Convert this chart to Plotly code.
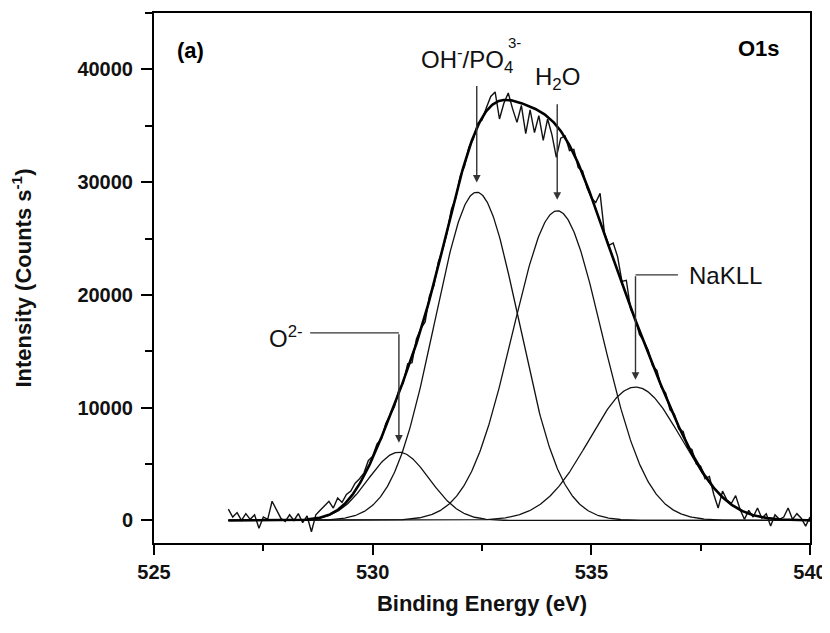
import numpy as np
import plotly.graph_objects as go

# ---------------- data ----------------
# raw O1s spectrum: binding energy grid 526.7 .. 540.0 eV, step 0.1 eV
energy_start = 526.7
energy_step = 0.1
raw_counts = [
    1000, 300, 700, 0, 600, 100, 500, -700, 300, 100,        # 526.7-527.6
    1700, 900, 200, -100, 500, 0, 600, -200, 400, -1000,     # 527.7-528.6
    500, 900, 1300, 1700, 1100, 2000, 1600, 2300, 2600, 3300,  # 528.7-529.6
    3700, 4200, 5300, 5700, 6800, 7200, 8600, 9300, 10100, 11600,  # 529.7-530.6
    12200, 13900, 14000, 16100, 17000, 17600, 19900, 20800, 22900, 24000,  # 530.7-531.6
    25500, 27600, 28600, 30500, 31400, 33100, 33800, 35200, 35500, 36600,  # 531.7-532.6
    37600, 38000, 35600, 37000, 37900, 36500, 35300, 36800, 34300, 36400,  # 532.7-533.6
    34400, 35900, 33700, 35600, 34200, 32200, 33900, 34100, 32800, 32900,  # 533.7-534.6
    31300, 31000, 29500, 28600, 28200, 29000, 25500, 24400, 24600, 23400,  # 534.7-535.6
    21200, 21300, 18700, 18000, 16500, 15900, 15100, 13700, 13300, 11800,  # 535.7-536.6
    11300, 9800, 9400, 8100, 7900, 6500, 6300, 5000, 4800, 3700,   # 536.7-537.6
    3900, 2300, 1100, 2600, 1800, 1500, 2200, 1000, 100, 900,      # 537.7-538.6
    300, 1100, 200, 600, -500, 500, 100, 300, 1100, 100,           # 538.7-539.6
    600, 200, -500, 300,                                           # 539.7-540.0
]

# fitted components (Gaussian): centre (eV), height (counts/s), sigma (eV)
peak_names = ["O2-", "OH-/PO4 3-", "H2O", "NaKLL"]
peak_centers = [530.60, 532.38, 534.22, 536.01]
peak_heights = [6050, 29110, 27460, 11830]
peak_sigmas = [0.70, 0.96, 1.02, 1.06]

x_ticks = [525, 530, 535, 540]
y_ticks = [0, 10000, 20000, 30000, 40000]

# ---------------- figure ----------------
raw_x = energy_start + energy_step * np.arange(len(raw_counts))
fit_x = np.linspace(raw_x[0], raw_x[-1], 700)

fig = go.Figure()
components = []
for c, h, s in zip(peak_centers, peak_heights, peak_sigmas):
    comp = h * np.exp(-((fit_x - c) ** 2) / (2 * s ** 2))
    components.append(comp)
    fig.add_trace(go.Scatter(x=fit_x, y=comp, mode="lines",
                             line=dict(color="#111111", width=1.3),
                             hoverinfo="skip", showlegend=False))
envelope = np.sum(components, axis=0)

fig.add_trace(go.Scatter(x=raw_x, y=raw_counts, mode="lines",
                         line=dict(color="#111111", width=1.4),
                         showlegend=False))
fig.add_trace(go.Scatter(x=fit_x, y=envelope, mode="lines",
                         line=dict(color="#000000", width=2.6),
                         showlegend=False))

FONT = "Liberation Sans, Arial, sans-serif"
arrow_col = "#333333"

ann = []
# panel label and core level
ann.append(dict(xref="paper", yref="paper", x=0.032, y=0.93, text="(a)",
                showarrow=False, xanchor="left", yanchor="middle",
                font=dict(family=FONT, size=22, color="black", weight="bold")))
ann.append(dict(xref="paper", yref="paper", x=0.957, y=0.933, text="O1s",
                showarrow=False, xanchor="right", yanchor="middle",
                font=dict(family=FONT, size=22, color="black", weight="bold")))

lab_font = dict(family=FONT, size=24, color="#111111")
# vertical arrows pointing to the component peaks
arrow_specs = [(0, 840, -110), (1, 850, -98), (2, 970, -97), (3, 640, -105)]
for idx, off, ay in arrow_specs:
    ann.append(dict(x=peak_centers[idx], y=peak_heights[idx] + off, xref="x", yref="y",
                    text="", showarrow=True, ax=0, ay=ay, arrowhead=2,
                    arrowsize=1.1, arrowwidth=1.4, arrowcolor=arrow_col, standoff=0))

# labels
ann.append(dict(x=peak_centers[1] - 1.33, y=40850, xref="x", yref="y",
                text="OH<sup>-</sup>/PO<sub>4</sub>", showarrow=False,
                xanchor="left", yanchor="middle", font=lab_font))
ann.append(dict(x=peak_centers[1] + 0.66, y=42400, xref="x", yref="y",
                text="3-", showarrow=False, xanchor="left", yanchor="middle",
                font=dict(family=FONT, size=15, color="#111111")))
ann.append(dict(x=peak_centers[2] - 0.56, y=39150, xref="x", yref="y",
                text="H<sub>2</sub>O", showarrow=False,
                xanchor="left", yanchor="middle", font=lab_font))
ann.append(dict(x=537.19, y=21700, xref="x", yref="y", text="NaKLL",
                showarrow=False, xanchor="left", yanchor="middle", font=lab_font))
ann.append(dict(x=528.45, y=16300, xref="x", yref="y", text="O<sup>2-</sup>",
                showarrow=False, xanchor="right", yanchor="middle", font=lab_font))

shapes = [
    dict(type="line", xref="x", yref="y", x0=528.57, x1=peak_centers[0],
         y0=peak_heights[0] + 840 + 110 * 88.65, y1=peak_heights[0] + 840 + 110 * 88.65,
         line=dict(color=arrow_col, width=1.3)),
    dict(type="line", xref="x", yref="y", x0=peak_centers[3], x1=536.98,
         y0=peak_heights[3] + 640 + 105 * 88.65, y1=peak_heights[3] + 640 + 105 * 88.65,
         line=dict(color=arrow_col, width=1.3)),
]

axis_common = dict(showgrid=False, zeroline=False, showline=True, linewidth=2,
                   linecolor="black", mirror=True, ticks="outside", tickwidth=2,
                   tickcolor="black", automargin=False,
                   tickfont=dict(family=FONT, size=20, color="#111111", weight="bold"))

# the page body adds an 8 px offset, so margins are reduced by 8 px at left/top
fig.update_layout(
    width=830, height=633,
    margin=dict(l=146, r=28, t=5, b=98),
    paper_bgcolor="white", plot_bgcolor="white",
    annotations=ann, shapes=shapes,
    xaxis=dict(range=[525, 540], tickvals=x_ticks, ticklen=10,
               minor=dict(ticks="outside", dtick=2.5, tick0=525, ticklen=6,
                          tickwidth=2, tickcolor="black"),
               title=dict(text="Binding Energy (eV)", standoff=14,
                          font=dict(family=FONT, size=22, color="#111111", weight="bold")),
               **axis_common),
    yaxis=dict(range=[-2000, 45000], tickvals=y_ticks, ticklen=11, tickformat="d",
               ticklabelstandoff=4,
               minor=dict(ticks="outside", dtick=5000, tick0=0, ticklen=7,
                          tickwidth=2, tickcolor="black"),
               title=dict(text="Intensity (Counts s<sup>-1</sup>)", standoff=40,
                          font=dict(family=FONT, size=22, color="#111111", weight="bold")),
               **axis_common),
)

fig.write_html("out.html")
